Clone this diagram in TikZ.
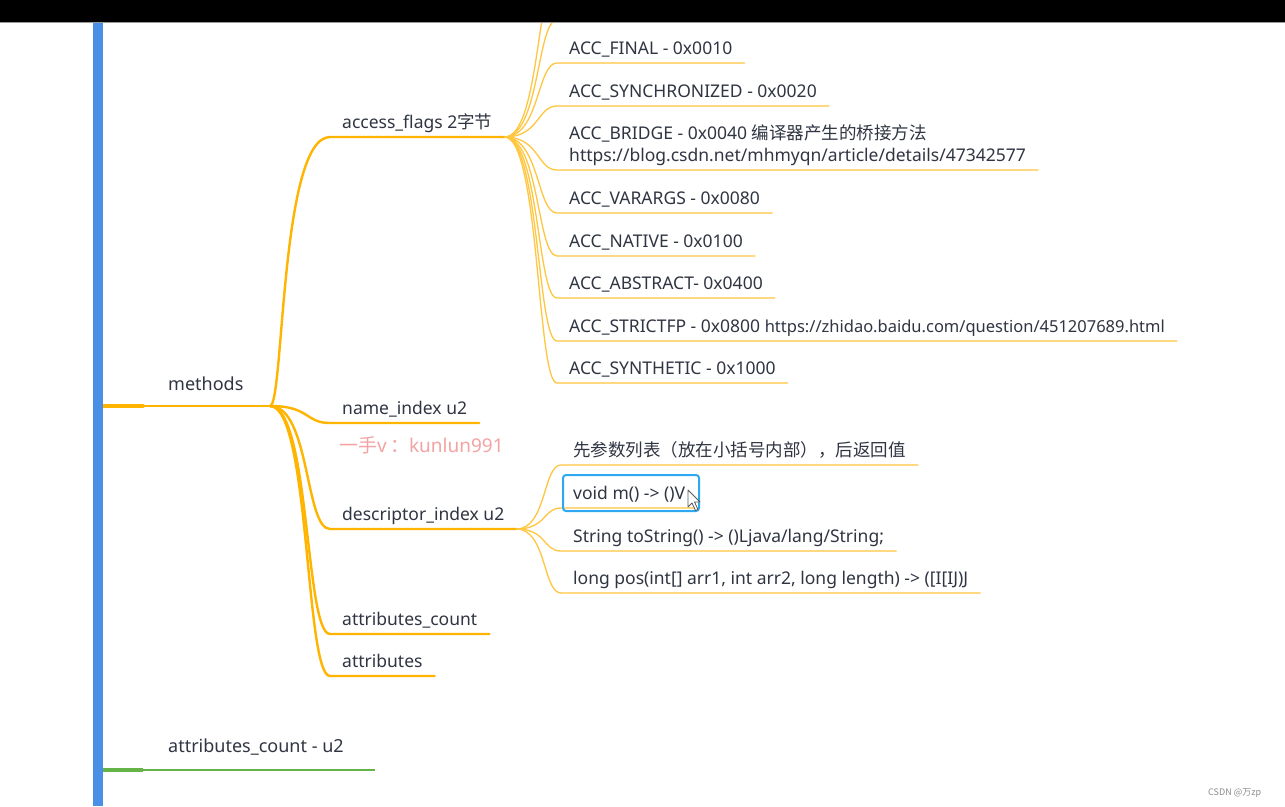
\documentclass[tikz,border=0pt]{standalone}
\usepackage{fontspec}
\setmainfont{Noto Sans}
\newfontfamily\cjk{Noto Sans CJK SC}

\definecolor{barblue}{HTML}{4A8FE6}
\definecolor{branchgold}{HTML}{FFB500}
\definecolor{twiggold}{HTML}{FFC640}
\definecolor{countgreen}{HTML}{66B347}
\definecolor{labelink}{HTML}{2F3542}
\definecolor{markpink}{HTML}{F3A3A3}
\definecolor{pickblue}{HTML}{2FA8F2}

\tikzset{
  rootlabel/.style={anchor=base west, inner sep=0pt, text=labelink,
    font=\fontsize{18}{22}\selectfont},
  topic/.style={anchor=south west, inner xsep=12pt, inner ysep=8.5pt,
    text depth=0pt, align=left, text=labelink,
    font=\fontsize{17.5}{22}\selectfont},
  branch/.style={draw=branchgold, line width=2.4pt, line cap=round},
  twig/.style={draw=twiggold, line width=1.3pt, line cap=round},
}

\begin{document}
\begin{tikzpicture}[x=1pt,y=-1pt]
\useasboundingbox (0,0) rectangle (1285,806);
\fill[white] (0,0) rectangle (1285,806);
\clip (0,0) rectangle (1285,806);

% root level
\coordinate (mroot) at (98,406);
\coordinate (mneck) at (143,406);
\coordinate (mhub) at (270,406);
\coordinate (acroot) at (98,770);
\coordinate (acneck) at (143,770);
\coordinate (acend) at (375,770);
\node[rootlabel] (methods) at (168,390) {methods};
\node[rootlabel] (attrcountu) at (168,752) {attributes\_count - u2};

% methods children
\node[topic] (aflags) at (330,137) {access\_flags 2{\cjk 字节}};
\node[topic] (nameidx) at (330,423) {name\_index u2};
\node[topic] (descidx) at (330,529) {descriptor\_index u2};
\node[topic] (attrcount) at (330,634) {attributes\_count};
\node[topic] (attrs) at (330,676) {attributes};

% access flags
\coordinate (ahide1) at (557,20);
\coordinate (ahide2) at (557,-23);
\node[topic] (afinal) at (557,63) {ACC\_FINAL - 0x0010};
\node[topic] (async) at (557,106) {ACC\_SYNCHRONIZED - 0x0020};
\node[topic] (abridge) at (557,170) {ACC\_BRIDGE - 0x0040 {\cjk 编译器产生的桥接方法}\\https://blog.csdn.net/mhmyqn/article/details/47342577};
\node[topic] (avarargs) at (557,213) {ACC\_VARARGS - 0x0080};
\node[topic] (anative) at (557,256) {ACC\_NATIVE - 0x0100};
\node[topic] (aabstract) at (557,298) {ACC\_ABSTRACT- 0x0400};
\node[topic] (astrictfp) at (557,341) {ACC\_STRICTFP - 0x0800 {\fontsize{16.5}{22}\selectfont https://zhidao.baidu.com/question/451207689.html}};
\node[topic] (asynthetic) at (557,383) {ACC\_SYNTHETIC - 0x1000};

% descriptor examples
\node[topic] (dnote) at (561,465) {\cjk 先参数列表（放在小括号内部），后返回值};
\node[topic] (dvoid) at (561,508) {void m() -> ()V};
\node[topic] (dstring) at (561,551) {String toString() -> ()Ljava/lang/String;};
\node[topic] (dlong) at (561,593) {long pos(int[] arr1, int arr2, long length) -> ([I[IJ)J};

\node[anchor=base west, inner sep=0pt, text=markpink, font=\fontsize{19}{22}\selectfont]
  (mark) at (339,452) {{\cjk 一手}v\,{\cjk ：}kunlun991};

% connectors
\draw[branch, line width=3.6pt] (mroot) -- (mneck);
\draw[branch] (mneck) -- (mhub);
\draw[countgreen, line width=3.2pt] (acroot) -- (acneck);
\draw[countgreen, line width=2.2pt] (acneck) -- (acend);
\draw[branch] (mhub) .. controls +(14,0) and +(-50,0) .. (aflags.south west) -- (aflags.south east);
\foreach \sub in {nameidx,descidx,attrcount,attrs}
  \draw[branch] (mhub) .. controls +(40,0) and +(-25,0) .. (\sub.south west) -- (\sub.south east);
\foreach \spot in {ahide1,ahide2}
  \draw[twig] (aflags.south east) .. controls +(35,0) and +(-20,0) .. (\spot);
\foreach \leaf in {afinal,async,abridge,avarargs,anative,aabstract,astrictfp,asynthetic}
  \draw[twig] (aflags.south east) .. controls +(35,0) and +(-20,0) .. (\leaf.south west) -- (\leaf.south east);
\foreach \leaf in {dnote,dvoid,dstring,dlong}
  \draw[twig] (descidx.south east) .. controls +(30,0) and +(-18,0) .. (\leaf.south west) -- (\leaf.south east);

% selection box and pointer
\draw[pickblue, line width=2pt, rounded corners=3pt] (563,475) rectangle (699,511);
\draw[fill=white, draw=black!65, line width=0.8pt, line join=round]
  (688,490) -- ++(0,17) -- ++(4,-4) -- ++(3.5,7.5) -- ++(2.5,-1) -- ++(-3.5,-7.5) -- ++(5.5,0) -- cycle;

% frame
\fill[barblue] (93,22) rectangle (103,806);
\fill[black] (0,0) rectangle (1285,22);
\draw[black!40, line width=0.8pt] (0,22.4) -- (1285,22.4);

\node[anchor=base west, inner sep=0pt, text=black!45, font=\cjk\fontsize{9}{10}\selectfont]
  (credit) at (1208,795) {CSDN @万zp};
\end{tikzpicture}
\end{document}
